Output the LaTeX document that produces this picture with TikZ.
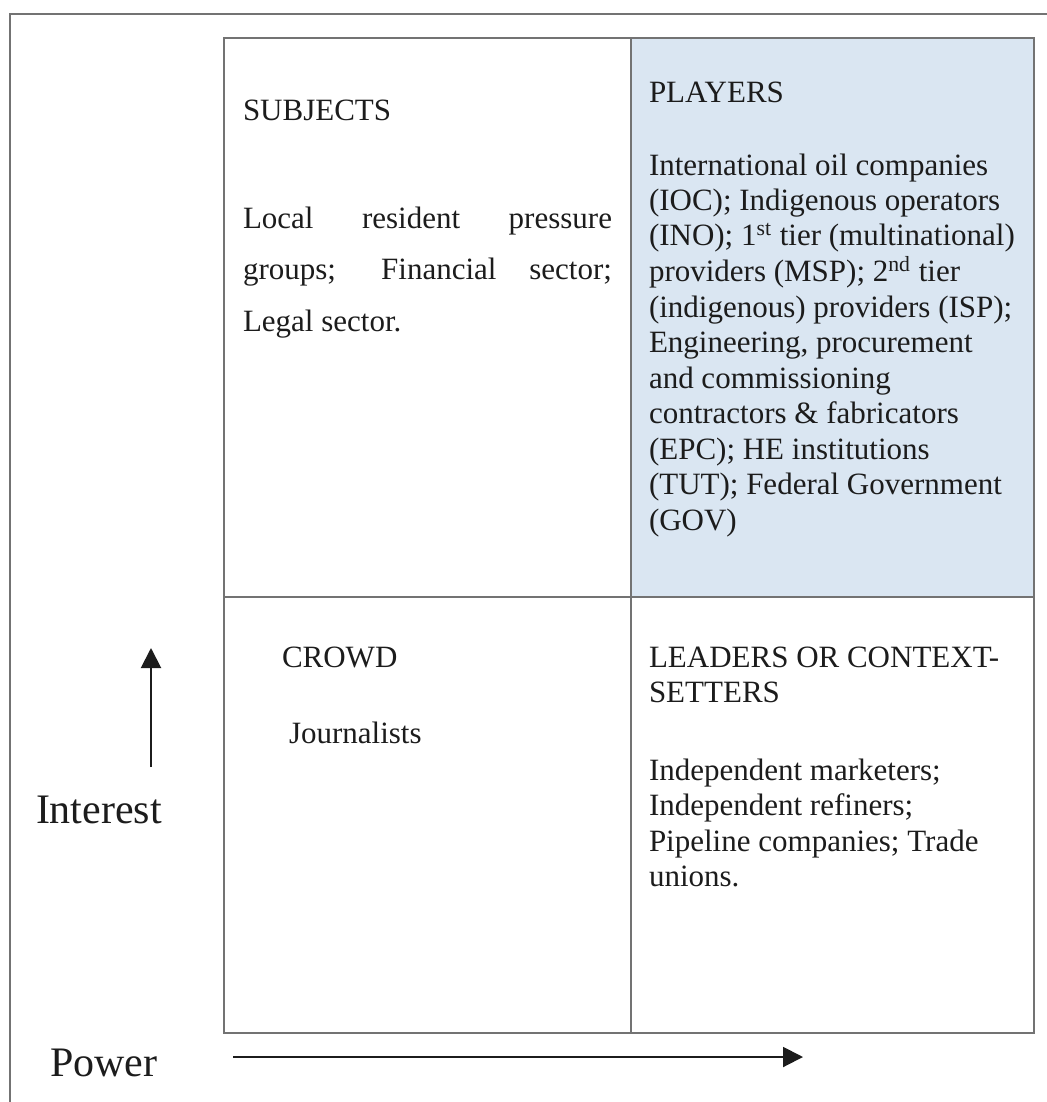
\documentclass[tikz,border=0pt]{standalone}
\usepackage{fontspec}
\setmainfont{Liberation Serif}
\usetikzlibrary{arrows.meta}
\definecolor{gridgray}{HTML}{737373}
\definecolor{playblue}{HTML}{DAE6F2}
\definecolor{txt}{HTML}{1C1C1C}
\begin{document}
\begin{tikzpicture}[x=0.5pt,y=-0.5pt,
  txtnode/.style={anchor=base west, inner sep=0pt, outer sep=0pt, text=txt, font=\fontsize{15.5}{17.75}\selectfont},
  axlabel/.style={anchor=base west, inner sep=0pt, outer sep=0pt, text=txt, font=\fontsize{21}{24}\selectfont},
  cellline/.style={draw=gridgray, line width=1pt},
  framebox/.style={draw=gridgray, line width=1.1pt},
  axisarrow/.style={draw=txt, line width=1pt, -{Triangle[length=10pt,width=10pt]}}]
\useasboundingbox (0,0) rectangle (1047,1102);
\clip (0,0) rectangle (1047,1102);
% outer frame (runs off the right and bottom edges)
\draw[framebox] (10,14) rectangle (1075,1135);
% cells
\fill[playblue] (631,38) rectangle (1034,597);
\draw[cellline] (224,38) rectangle (1034,1033);
\draw[cellline] (631,38) -- (631,1033);
\draw[cellline] (224,597) -- (1034,597);
% SUBJECTS
\node[txtnode] (subjh) at (243,120) {SUBJECTS};
\node[txtnode] (subjb) at (243,228) {\parbox[t]{184.5pt}{\fontsize{15.5}{25.75}\selectfont Local resident pressure\linebreak groups; Financial sector;\linebreak Legal sector.}};
% PLAYERS
\node[txtnode] (playh) at (649,103) {PLAYERS};
\node[txtnode] (playb) at (649,175) {\parbox[t]{200pt}{\fontsize{15.5}{17.75}\selectfont\raggedright
International oil companies\\
(IOC); Indigenous operators\\
(INO); 1\textsuperscript{st} tier (multinational)\\
providers (MSP); 2\textsuperscript{nd} tier\\
(indigenous) providers (ISP);\\
Engineering, procurement\\
and commissioning\\
contractors \& fabricators\\
(EPC); HE institutions\\
(TUT); Federal Government\\
(GOV)}};
% CROWD
\node[txtnode] (crowdh) at (282,667) {CROWD};
\node[txtnode] (crowdb) at (289,743) {Journalists};
% LEADERS
\node[txtnode] (leadh) at (649,667) {\parbox[t]{200pt}{\fontsize{15.5}{17.5}\selectfont\raggedright
LEADERS OR CONTEXT-\\
SETTERS}};
\node[txtnode] (leadb) at (649,780) {\parbox[t]{200pt}{\fontsize{15.5}{17.75}\selectfont\raggedright
Independent marketers;\\
Independent refiners;\\
Pipeline companies; Trade\\
unions.}};
% axes
\node[axlabel] (interest) at (36,823) {Interest};
\node[axlabel] (power) at (50,1076) {Power};
\coordinate (ibot) at (151,767);
\coordinate (itop) at (151,648);
\coordinate (pleft) at (233,1057);
\coordinate (pright) at (803,1057);
\draw[axisarrow] (ibot) -- (itop);
\draw[axisarrow] (pleft) -- (pright);
\end{tikzpicture}
\end{document}
